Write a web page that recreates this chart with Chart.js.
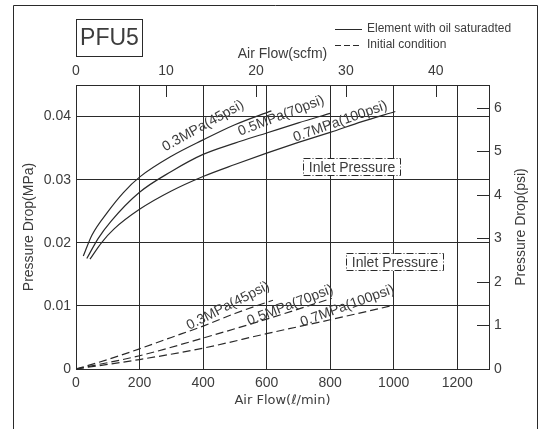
<!DOCTYPE html>
<html>
<head>
<meta charset="utf-8">
<script src="https://cdn.jsdelivr.net/npm/chart.js@4/dist/chart.umd.min.js"></script>
<style>
  html, body { margin: 0; padding: 0; background: #fff; }
  #wrap { width: 542px; height: 429px; position: relative; }
</style>
</head>
<body>
<div id="wrap"><canvas id="myChart0"></canvas></div>
<script>
// axis ranges / tick labels
var flowMax = 1300;          // l/min
var dpMax = 0.045;           // MPa
var lpmPerScfm = 28.3168;
var psiPerMpa = 145.038;

// Element with oil saturated (solid)
var sat03Flow = [23, 50, 100, 150, 200, 300, 400, 500, 615];
var sat03Dp   = [0.0179, 0.0212, 0.0249, 0.0280, 0.0304, 0.0337, 0.0363, 0.0387, 0.0409];
var sat05Flow = [34, 70, 110, 200, 300, 400, 500, 600, 700, 800];
var sat05Dp   = [0.0175, 0.0207, 0.0234, 0.0280, 0.0313, 0.0340, 0.0358, 0.0374, 0.0390, 0.0405];
var sat07Flow = [44, 80, 120, 200, 300, 400, 500, 600, 700, 800, 900, 1005];
var sat07Dp   = [0.0174, 0.0200, 0.0222, 0.0253, 0.0282, 0.0305, 0.0324, 0.0342, 0.0359, 0.0375, 0.0392, 0.0408];

// Initial condition (dashed)
var ini03Flow = [0, 100, 200, 300, 400, 500, 620];
var ini03Dp   = [0, 0.0015, 0.0032, 0.0050, 0.0068, 0.0088, 0.0109];
var ini05Flow = [0, 200, 400, 600, 805];
var ini05Dp   = [0, 0.0021, 0.0049, 0.0079, 0.0112];
var ini07Flow = [0, 200, 400, 600, 800, 1000];
var ini07Dp   = [0, 0.0015, 0.0033, 0.0056, 0.0078, 0.0101];

var seriesNames = ['0.3MPa(45psi)', '0.5MPa(70psi)', '0.7MPa(100psi)'];

function pts(xs, ys) {
    var out = [];
    for (var i in xs) out.push({x: xs[i], y: ys[i]});
    return out;
}

var ink = '#2a2a2a';
var txt = '#3c3c3c';
var fam = '"Liberation Sans", Arial, sans-serif';
Chart.defaults.font.family = fam;
Chart.defaults.font.size = 14;
Chart.defaults.color = txt;

function ds(label, data, dashed) {
    return {
        label: label,
        data: data,
        borderColor: ink,
        borderWidth: 1.2,
        borderDash: dashed ? [8, 4] : [],
        pointRadius: 0,
        fill: false,
        cubicInterpolationMode: 'monotone',
        xAxisID: 'x',
        yAxisID: 'y'
    };
}

// text placed on the plot, anchored in data units
var curveLabels = [
    {text: seriesNames[0], flow: 400, dp: 0.0385, angle: 29},
    {text: seriesNames[1], flow: 646, dp: 0.0401, angle: 21},
    {text: seriesNames[2], flow: 832, dp: 0.0392, angle: 19.5},
    {text: seriesNames[0], flow: 479, dp: 0.0100, angle: 27},
    {text: seriesNames[1], flow: 674, dp: 0.0101, angle: 21},
    {text: seriesNames[2], flow: 854, dp: 0.0100, angle: 20}
];
var inletBoxes = [
    {flow: 868, dp: 0.0320},
    {flow: 1005, dp: 0.0169}
];

var deco = {
    id: 'deco',
    afterDraw: function(chart) {
        var ctx = chart.ctx;
        var a = chart.chartArea;
        var sx = chart.scales.x, sy = chart.scales.y;
        var sx2 = chart.scales.x2, sy2 = chart.scales.y2;
        ctx.save();
        ctx.strokeStyle = ink;
        ctx.lineWidth = 1;

        // outer frame (open at bottom)
        ctx.beginPath();
        ctx.moveTo(13.5, 429); ctx.lineTo(13.5, 5.5); ctx.lineTo(537.5, 5.5); ctx.lineTo(537.5, 429);
        ctx.stroke();

        // model box
        ctx.strokeRect(76.5, 19.5, 66, 37);
        ctx.fillStyle = txt;
        ctx.font = '23px ' + fam;
        ctx.textAlign = 'center';
        ctx.textBaseline = 'middle';
        ctx.fillText('PFU5', 109.5, 39);

        // legend
        ctx.font = '12px ' + fam;
        ctx.textAlign = 'left';
        ctx.beginPath(); ctx.moveTo(335, 29.5); ctx.lineTo(362, 29.5); ctx.stroke();
        ctx.fillText('Element with oil saturadted', 367, 29);
        ctx.setLineDash([6, 3]);
        ctx.beginPath(); ctx.moveTo(335, 45.5); ctx.lineTo(362, 45.5); ctx.stroke();
        ctx.setLineDash([]);
        ctx.fillText('Initial condition', 367, 45);

        // inward ticks on top and right axes
        sx2.ticks.forEach(function(t) {
            if (t.value === 0) return;
            var px = Math.round(sx2.getPixelForValue(t.value)) + 0.5;
            ctx.beginPath(); ctx.moveTo(px, a.top); ctx.lineTo(px, a.top + 12); ctx.stroke();
        });
        sy2.ticks.forEach(function(t) {
            if (t.value === 0) return;
            var py = Math.round(sy2.getPixelForValue(t.value)) + 0.5;
            ctx.beginPath(); ctx.moveTo(a.right - 12, py); ctx.lineTo(a.right, py); ctx.stroke();
        });

        // right axis title, reading upward
        ctx.save();
        ctx.font = '14px ' + fam;
        ctx.textAlign = 'center';
        ctx.translate(521, (a.top + a.bottom) / 2);
        ctx.rotate(-Math.PI / 2);
        ctx.fillText('Pressure Drop(psi)', 0, 0);
        ctx.restore();

        // curve labels
        ctx.font = '14px ' + fam;
        ctx.textAlign = 'center';
        curveLabels.forEach(function(l) {
            ctx.save();
            ctx.translate(sx.getPixelForValue(l.flow), sy.getPixelForValue(l.dp));
            ctx.rotate(-l.angle * Math.PI / 180);
            ctx.fillText(l.text, 0, 0);
            ctx.restore();
        });

        // inlet pressure boxes
        inletBoxes.forEach(function(b) {
            var cx = Math.round(sx.getPixelForValue(b.flow));
            var cy = Math.round(sy.getPixelForValue(b.dp));
            ctx.fillStyle = '#fff';
            ctx.fillRect(cx - 48, cy - 8, 97, 17);
            ctx.setLineDash([7, 2, 1, 2]);
            ctx.strokeRect(cx - 48.5, cy - 8.5, 97, 17);
            ctx.setLineDash([]);
            ctx.fillStyle = txt;
            ctx.fillText('Inlet Pressure', cx, cy + 1);
        });
        ctx.restore();
    }
};

var chartdata = {
    datasets: [
        ds(seriesNames[0], pts(sat03Flow, sat03Dp), false),
        ds(seriesNames[1], pts(sat05Flow, sat05Dp), false),
        ds(seriesNames[2], pts(sat07Flow, sat07Dp), false),
        ds(seriesNames[0], pts(ini03Flow, ini03Dp), true),
        ds(seriesNames[1], pts(ini05Flow, ini05Dp), true),
        ds(seriesNames[2], pts(ini07Flow, ini07Dp), true)
    ]
};

var ctx = document.getElementById('myChart0');
var LineGraph = new Chart(ctx, {
    type: 'line',
    data: chartdata,
    plugins: [deco],
    options: {
        responsive: true,
        maintainAspectRatio: false,
        animation: false,
        layout: {padding: 0},
        plugins: {legend: {display: false}, tooltip: {enabled: false}},
        scales: {
            x: {
                type: 'linear', position: 'bottom', min: 0, max: flowMax,
                ticks: {
                    stepSize: 200, includeBounds: false, padding: 6, maxRotation: 0, color: txt,
                    callback: function(v) { return String(v); }
                },
                grid: {color: ink, drawTicks: false},
                border: {color: ink},
                title: {
                    display: true, text: 'Air Flow(ℓ/min)', color: txt,
                    font: {family: '"DejaVu Sans", sans-serif', size: 13},
                    padding: {top: 0, bottom: 21}
                },
                afterFit: function(s) { s.height = 60; }
            },
            x2: {
                type: 'linear', position: 'top', min: 0, max: flowMax / lpmPerScfm,
                ticks: {stepSize: 10, includeBounds: false, padding: 5, maxRotation: 0, color: txt},
                grid: {drawOnChartArea: false, drawTicks: false},
                border: {display: true, color: ink},
                title: {display: true, text: 'Air Flow(scfm)', color: txt, padding: {top: 46, bottom: 0}},
                afterFit: function(s) { s.height = 85; }
            },
            y: {
                type: 'linear', position: 'left', min: 0, max: dpMax,
                ticks: {
                    stepSize: 0.01, includeBounds: false, padding: 5, color: txt,
                    callback: function(v) { return v === 0 ? '0' : v.toFixed(2); }
                },
                grid: {color: ink, drawTicks: false},
                border: {color: ink},
                title: {display: true, text: 'Pressure Drop(MPa)', color: txt, padding: {top: 21, bottom: 0}},
                afterFit: function(s) { s.width = 76; }
            },
            y2: {
                type: 'linear', position: 'right', min: 0, max: dpMax * psiPerMpa,
                ticks: {stepSize: 1, includeBounds: false, padding: 5, color: txt},
                grid: {drawOnChartArea: false, drawTicks: false},
                border: {display: true, color: ink},
                afterFit: function(s) { s.width = 53; }
            }
        }
    }
});
</script>
</body>
</html>
